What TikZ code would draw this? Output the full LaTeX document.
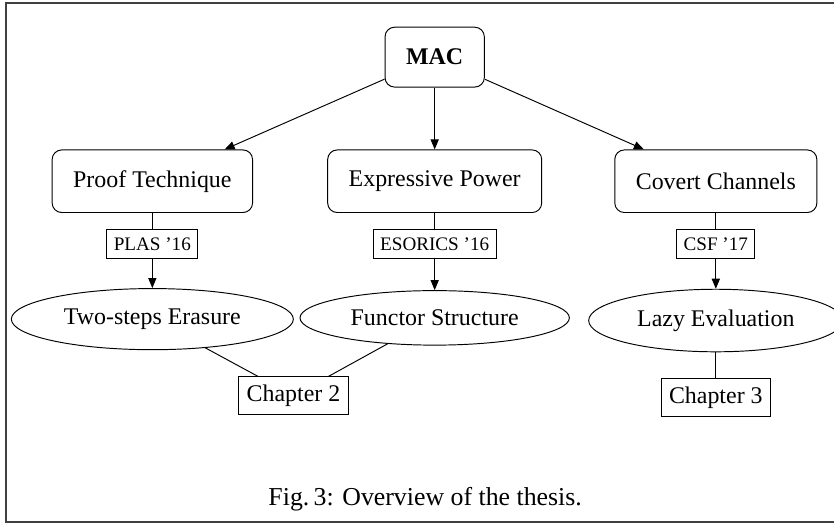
\documentclass[tikz,border=0pt]{standalone}
\usepackage{fontspec}
\setmainfont{Liberation Serif}
\usepackage{tikz}
\usetikzlibrary{arrows.meta,positioning,shapes.geometric,calc}

\begin{document}
\begin{tikzpicture}[
    topnode/.style={rectangle, rounded corners=4pt, draw, minimum width=1.46cm, minimum height=0.88cm, font=\bfseries},
    areanode/.style={rectangle, rounded corners=4pt, draw, inner xsep=8.8pt, minimum height=0.92cm},
    venuenode/.style={rectangle, draw, font=\footnotesize, inner xsep=2.9pt, inner ysep=2pt, minimum height=0.43cm},
    ideanode/.style={ellipse, draw, inner sep=4.7pt},
    chapnode/.style={rectangle, draw, inner sep=3.3pt},
    arr/.style={-{Triangle[length=4.2pt, width=3.4pt]}}
]
    % Frame
    \useasboundingbox (0,0) rectangle (12.26,7.70);
    \draw[black!75, line width=0.8pt] (0.09,0.02) rectangle (12.27,7.66);

    % Root
    \node[topnode] (mac) at (6.39,6.86) {MAC};

    % Research areas
    \node[areanode, below=0.91cm of mac] (ep) {Expressive Power};
    \node[areanode, left=1.09cm of ep] (pt) {Proof Technique};
    \node[areanode, right=1.06cm of ep] (cc) {Covert Channels};

    % Venues
    \node[venuenode, below=0.23cm of pt] (plas) {PLAS '16};
    \node[venuenode, below=0.23cm of ep] (esorics) {ESORICS '16};
    \node[venuenode, below=0.23cm of cc] (csf) {CSF '17};

    % Ideas
    \node[ideanode, below=0.43cm of plas] (tse) {Two-steps Erasure};
    \node[ideanode, below=0.46cm of esorics] (fs) {Functor Structure};
    \node[ideanode, below=0.44cm of csf] (lazy) {Lazy Evaluation};

    % Chapters
    \coordinate (mid) at ($(tse.south)!0.5!(fs.south)$);
    \node[chapnode, below=0.42cm of mid] (ch2) {Chapter 2};
    \node[chapnode, below=0.38cm of lazy] (ch3) {Chapter 3};

    % Caption
    \node[font=\fontsize{10.8}{13}\selectfont, anchor=base] (cap) at (6.25,0.265) {Fig.\,3: Overview of the thesis.};

    \draw[arr] (mac) -- (pt);
    \draw[arr] (mac) -- (ep);
    \draw[arr] (mac) -- (cc);

    \draw (pt) -- (plas);
    \draw (ep) -- (esorics);
    \draw (cc) -- (csf);
    \draw[arr] (plas) -- (tse);
    \draw[arr] (esorics) -- (fs);
    \draw[arr] (csf) -- (lazy);

    \draw (tse) -- (ch2);
    \draw (fs) -- (ch2);
    \draw (lazy) -- (ch3);
\end{tikzpicture}
\end{document}
